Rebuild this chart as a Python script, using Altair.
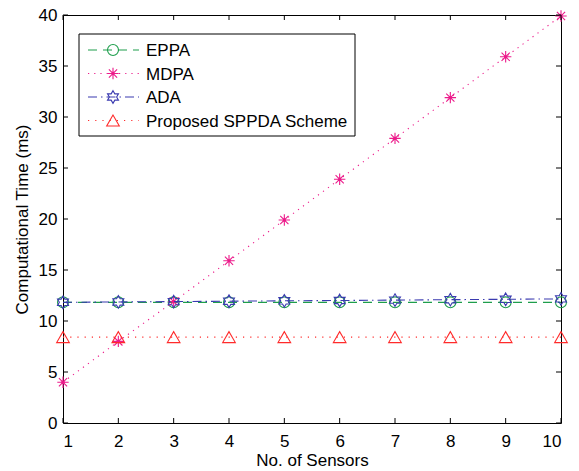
import altair as alt
import pandas as pd

# Computational time (ms) versus number of sensors
sensors = [1, 2, 3, 4, 5, 6, 7, 8, 9, 10]
eppa = [11.83, 11.83, 11.83, 11.83, 11.83, 11.83, 11.83, 11.83, 11.83, 11.83]
mdpa = [4.0, 8.0, 11.9, 15.9, 19.9, 23.9, 27.9, 31.9, 35.9, 39.9]
ada = [11.83, 11.87, 11.9, 11.94, 11.98, 12.01, 12.05, 12.09, 12.13, 12.17]
sppda = [8.42, 8.42, 8.42, 8.42, 8.42, 8.42, 8.42, 8.42, 8.42, 8.42]

series_names = ["EPPA", "MDPA", "ADA", "Proposed SPPDA Scheme"]
series_values = [eppa, mdpa, ada, sppda]

x_ticks = [1, 2, 3, 4, 5, 6, 7, 8, 9, 10]
y_ticks = [0, 5, 10, 15, 20, 25, 30, 35, 40]

FONT = "Liberation Sans"
FS = 17
W, H = 498, 408

# marker paths in the unit box [-1, 1]
ASTERISK = ("M-1,0L1,0M0,-1L0,1M-0.72,-0.72L0.72,0.72M-0.72,0.72L0.72,-0.72"
            "M-0.2,-0.2L0.2,-0.2L0.2,0.2L-0.2,0.2Z")
HEXAGRAM = ("M0,-1L0.289,-0.5L0.866,-0.5L0.577,0L0.866,0.5L0.289,0.5L0,1"
            "L-0.289,0.5L-0.866,0.5L-0.577,0L-0.866,-0.5L-0.289,-0.5Z")

styles = {
    "EPPA": dict(color="#1e9e4c", dash=[9, 6], shape="circle", size=120),
    "MDPA": dict(color="#ec1a8a", dash=[1.2, 5], shape=ASTERISK, size=130),
    "ADA": dict(color="#3a3ab0", dash=[9, 4, 1.5, 4], shape=HEXAGRAM, size=160),
    "Proposed SPPDA Scheme": dict(color="#ff2b2b", dash=[1.2, 6], shape="triangle-up", size=160),
}

x_scale = alt.Scale(domain=[1, 10], nice=False, zero=False)
y_scale = alt.Scale(domain=[0, 40], nice=False)

layers = []
first = True
for name, vals in zip(series_names, series_values):
    st = styles[name]
    df = pd.DataFrame({"sensors": sensors, "time": vals})
    if first:
        xenc = alt.X("sensors:Q", scale=x_scale, title="No. of Sensors",
                     axis=alt.Axis(values=x_ticks, format="d"))
        yenc = alt.Y("time:Q", scale=y_scale, title="Computational Time (ms)",
                     axis=alt.Axis(values=y_ticks))
        first = False
    else:
        xenc = alt.X("sensors:Q", scale=x_scale)
        yenc = alt.Y("time:Q", scale=y_scale)
    line = alt.Chart(df).mark_line(
        color=st["color"], strokeDash=st["dash"], strokeWidth=1.1
    ).encode(x=xenc, y=yenc)
    pts = alt.Chart(df).mark_point(
        shape=st["shape"], color=st["color"], size=st["size"],
        filled=False, strokeWidth=1.1, opacity=1
    ).encode(x=alt.X("sensors:Q", scale=x_scale), y=alt.Y("time:Q", scale=y_scale))
    layers += [line, pts]

# inward-pointing ticks on all four sides of the frame
ytk = pd.DataFrame({"v": y_ticks})
xtk = pd.DataFrame({"v": x_ticks})
tick_style = dict(color="black", strokeWidth=1)
layers += [
    alt.Chart(ytk).mark_rule(**tick_style).encode(
        y=alt.Y("v:Q", scale=y_scale), x=alt.value(0), x2=alt.value(5)),
    alt.Chart(ytk).mark_rule(**tick_style).encode(
        y=alt.Y("v:Q", scale=y_scale), x=alt.value(W - 5), x2=alt.value(W)),
    alt.Chart(xtk).mark_rule(**tick_style).encode(
        x=alt.X("v:Q", scale=x_scale), y=alt.value(H - 5), y2=alt.value(H)),
    alt.Chart(xtk).mark_rule(**tick_style).encode(
        x=alt.X("v:Q", scale=x_scale), y=alt.value(0), y2=alt.value(5)),
]

# legend box
box = pd.DataFrame({"k": [0]})
layers.append(
    alt.Chart(box).mark_rect(fill="white", stroke="black", strokeWidth=1).encode(
        x=alt.value(16), x2=alt.value(292), y=alt.value(19), y2=alt.value(121))
)
row_y = [35, 58.5, 82, 105.5]
for name, ly in zip(series_names, row_y):
    st = styles[name]
    one = pd.DataFrame({"series": [name]})
    layers.append(
        alt.Chart(one).mark_rule(color=st["color"], strokeDash=st["dash"], strokeWidth=1.1).encode(
            x=alt.value(25), x2=alt.value(76), y=alt.value(ly))
    )
    layers.append(
        alt.Chart(one).mark_point(shape=st["shape"], color=st["color"], size=st["size"],
                                  filled=False, strokeWidth=1.1, opacity=1).encode(
            x=alt.value(50), y=alt.value(ly))
    )
    layers.append(
        alt.Chart(one).mark_text(align="left", baseline="middle", font=FONT,
                                 fontSize=FS, color="black").encode(
            x=alt.value(83), y=alt.value(ly + 1), text="series:N")
    )

chart = alt.layer(*layers).properties(
    width=W, height=H,
    autosize=alt.AutoSizeParams(type="none"),
    padding={"left": 63, "top": 15, "right": 18, "bottom": 48},
    background="white",
).configure_view(
    stroke="black", strokeWidth=1
).configure_axis(
    domain=False, ticks=False, grid=False,
    labelFont=FONT, labelFontSize=FS, labelColor="black",
    titleFont=FONT, titleFontSize=FS, titleColor="black", titleFontWeight="normal",
).configure_axisX(
    labelPadding=10, titlePadding=3,
).configure_axisY(
    labelPadding=6, titlePadding=7,
)

chart.save("out.html", embed_options={"renderer": "svg", "actions": False})
